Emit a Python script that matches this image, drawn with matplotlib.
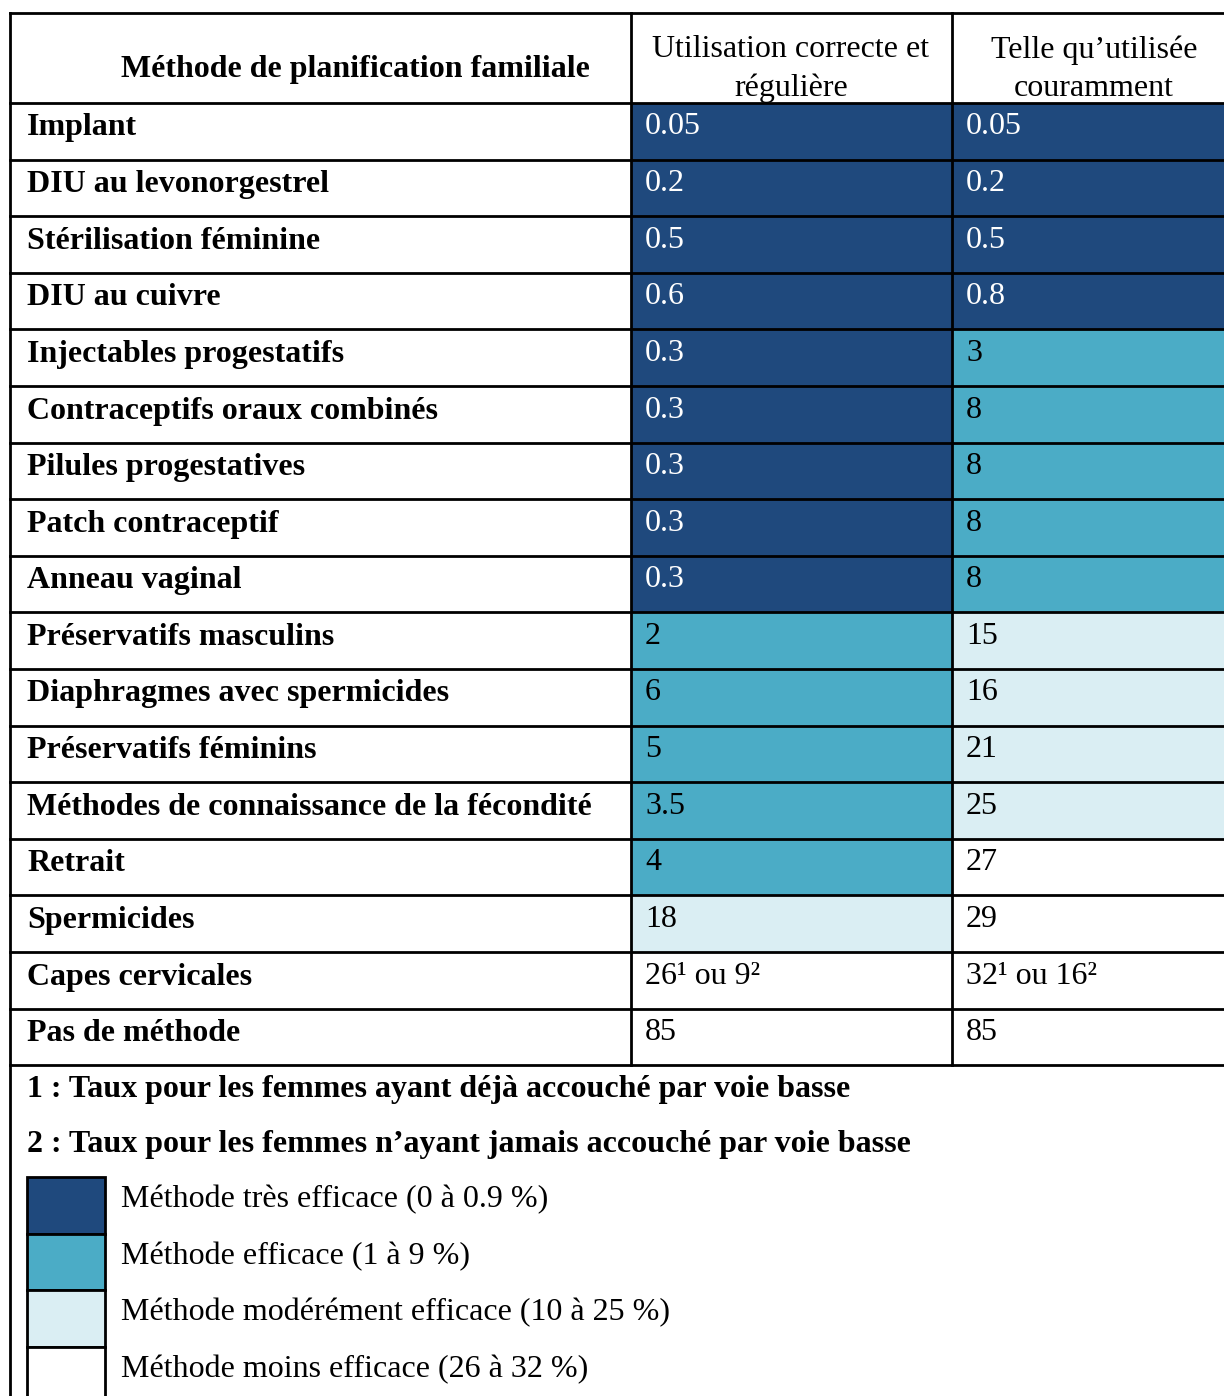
import matplotlib
matplotlib.use("Agg")
import matplotlib.pyplot as plt
from matplotlib.patches import Rectangle

# ---------------- data ----------------
header_method = "Méthode de planification familiale"
header_cols = ["Utilisation correcte et\nrégulière", "Telle qu\u2019utilisée\ncouramment"]

methods = [
    "Implant", "DIU au levonorgestrel", "Stérilisation féminine", "DIU au cuivre",
    "Injectables progestatifs", "Contraceptifs oraux combinés", "Pilules progestatives",
    "Patch contraceptif", "Anneau vaginal", "Préservatifs masculins",
    "Diaphragmes avec spermicides", "Préservatifs féminins",
    "Méthodes de connaissance de la fécondité", "Retrait", "Spermicides",
    "Capes cervicales", "Pas de méthode",
]
perfect_use = ["0.05", "0.2", "0.5", "0.6", "0.3", "0.3", "0.3", "0.3", "0.3",
               "2", "6", "5", "3.5", "4", "18", "26\u00b9 ou 9\u00b2", "85"]
typical_use = ["0.05", "0.2", "0.5", "0.8", "3", "8", "8", "8", "8",
               "15", "16", "21", "25", "27", "29", "32\u00b9 ou 16\u00b2", "85"]

footnotes = ["1 : Taux pour les femmes ayant déjà accouché par voie basse",
             "2 : Taux pour les femmes n\u2019ayant jamais accouché par voie basse"]
legend_labels = ["Méthode très efficace (0 à 0.9 %)", "Méthode efficace (1 à 9 %)",
                 "Méthode modérément efficace (10 à 25 %)", "Méthode moins efficace (26 à 32 %)"]
class_colors = ["#1F497D", "#4BACC6", "#DAEEF3", "#FFFFFF"]
class_bounds = [1, 10, 26]  # upper limits (exclusive) for classes 0..2


def efficacy_class(label):
    v = float(label.split("\u00b9")[0].split()[0])
    for i, b in enumerate(class_bounds):
        if v < b:
            return i
    return 3


# ---------------- layout ----------------
W, H = 1224, 1396
fig = plt.figure(figsize=(W / 100, H / 100), dpi=100)
ax = fig.add_axes([0, 0, 1, 1])
ax.set_xlim(0, W)
ax.set_ylim(H, 0)
ax.axis("off")

FONT = ["Liberation Serif", "DejaVu Serif"]
FS = 23
LW = 2.0

x_left, x_c1, x_c2, x_right = 10, 631, 952, 1224
y_top, y_head = 13, 103
row_h = 56.6
n = len(methods)
y_bottom = y_head + n * row_h

# cell fills
for i in range(n):
    y0 = y_head + i * row_h
    for (xa, xb, lab) in [(x_c1, x_c2, perfect_use[i]), (x_c2, x_right, typical_use[i])]:
        c = efficacy_class(lab)
        ax.add_patch(Rectangle((xa, y0), xb - xa, row_h, facecolor=class_colors[c],
                               edgecolor="none", zorder=1))
        ax.text(xa + 14, y0 + 24, lab, fontsize=FS, family=FONT, va="center", ha="left",
                color="white" if c == 0 else "black", zorder=3)
    ax.text(27, y0 + 25, methods[i], fontsize=FS, family=FONT, weight="bold",
            va="center", ha="left", zorder=3)

# header
ax.text(355, 69, header_method, fontsize=FS, family=FONT, weight="bold",
        va="center", ha="center")
ax.text(791, 69, header_cols[0], fontsize=FS, family=FONT, va="center", ha="center",
        linespacing=1.4)
ax.text(1094, 69, header_cols[1], fontsize=FS, family=FONT, va="center", ha="center",
        linespacing=1.4)

# grid lines
ax.plot([x_left, x_right], [y_top, y_top], color="black", lw=LW, zorder=4)
for i in range(n + 1):
    y = y_head + i * row_h
    ax.plot([x_left, x_right], [y, y], color="black", lw=LW, zorder=4)
for x in (x_c1, x_c2):
    ax.plot([x, x], [y_top, y_bottom], color="black", lw=LW, zorder=4)
ax.plot([x_left, x_left], [y_top, H], color="black", lw=LW, zorder=4)

# footnotes
for k, t in enumerate(footnotes):
    ax.text(27, y_bottom + 24 + k * 55.5, t, fontsize=FS, family=FONT, weight="bold",
            va="center", ha="left")

# legend
leg_y0 = 1177
leg_h = 56.5
for k, (lab, col) in enumerate(zip(legend_labels, class_colors)):
    y0 = leg_y0 + k * leg_h
    ax.add_patch(Rectangle((27, y0), 78, leg_h, facecolor=col, edgecolor="black",
                           lw=LW, zorder=2))
    ax.text(121, y0 + 23, lab, fontsize=FS, family=FONT, va="center", ha="left")

fig.savefig("out.png", dpi=100)
